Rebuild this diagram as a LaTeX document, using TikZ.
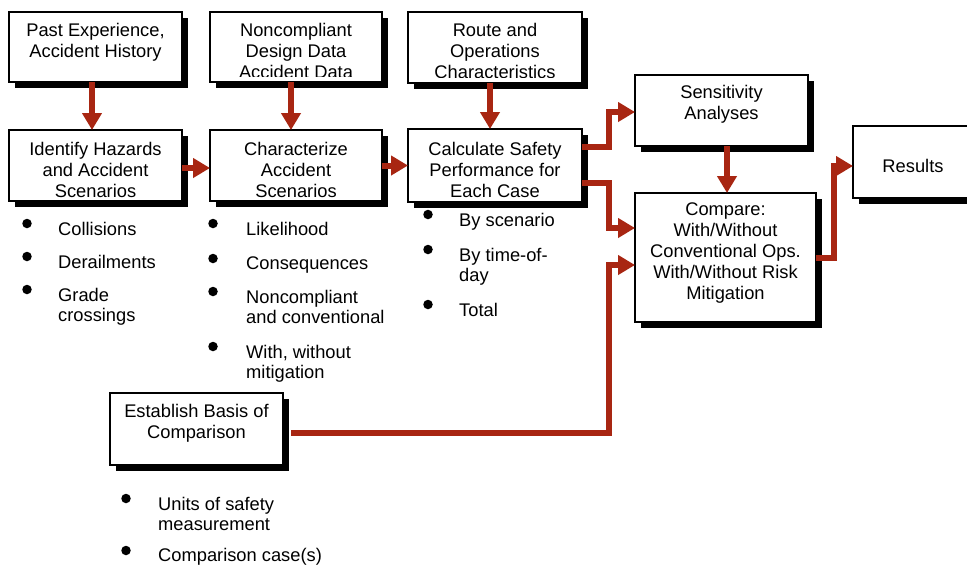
\documentclass[tikz,border=0pt]{standalone}
\usepackage{fontspec}
\setmainfont{Liberation Sans}
\usetikzlibrary{arrows.meta,shadows,calc}
\definecolor{arrowred}{RGB}{168,38,18}
\tikzset{
  box/.style={draw=black, line width=1.6pt, fill=white, rectangle, inner sep=0pt, outer sep=0pt, anchor=north west,
    drop shadow={shadow xshift=6pt, shadow yshift=-6pt, opacity=1, fill=black}},
  boxtext/.style={anchor=north, inner sep=0pt, align=center, font=\fontsize{18.3}{21}\selectfont},
  itemtext/.style={anchor=north west, inner sep=0pt, align=left, font=\fontsize{18.3}{20.5}\selectfont},
  arr/.style={draw=arrowred, line width=6pt, line join=miter, -{Triangle[length=17pt,width=19pt]}},
  bulletdot/.style={circle, fill=black, inner sep=0pt, minimum size=9.5pt},
}
\begin{document}
\begin{tikzpicture}[x=1pt, y=-1pt]
\useasboundingbox (0,0) rectangle (967,565);
\clip (0,0) rectangle (967,565);

% boxes
\node[box, minimum width=173pt, minimum height=70pt] (box1) at (9,12) {};
\node[box, minimum width=172pt, minimum height=70pt] (box2) at (210,12) {};
\node[box, minimum width=174pt, minimum height=71pt] (box3) at (408,12) {};
\node[box, minimum width=173pt, minimum height=71pt] (box4) at (9,130) {};
\node[box, minimum width=172pt, minimum height=71pt] (box5) at (210,130) {};
\node[box, minimum width=174pt, minimum height=73pt] (box6) at (408,129) {};
\node[box, minimum width=173pt, minimum height=71pt] (box7) at (635,75) {};
\node[box, minimum width=181pt, minimum height=129pt] (box8) at (635,193) {};
\node[box, minimum width=125pt, minimum height=72pt] (box9) at (853,126) {};
\node[box, minimum width=173pt, minimum height=72pt] (box10) at (110,393) {};

% box texts
\node[boxtext] (t1) at (95.5,23) {Past Experience,\\Accident History};
\begin{scope}
  \clip (box2.north west) rectangle ([yshift=6pt]box2.south east);
  \node[boxtext] (t2) at (296,23) {Noncompliant\\Design Data\\Accident Data};
\end{scope}
\begin{scope}
  \clip (box3.north west) rectangle ([yshift=6pt]box3.south east);
  \node[boxtext] (t3) at (495,23) {Route and\\Operations\\Characteristics};
\end{scope}
\node[boxtext] (t4) at (95.5,142) {Identify Hazards\\and Accident\\Scenarios};
\node[boxtext] (t5) at (296,142) {Characterize\\Accident\\Scenarios};
\node[boxtext] (t6) at (495,142) {Calculate Safety\\Performance for\\Each Case};
\node[boxtext] (t7) at (721.5,85) {Sensitivity\\Analyses};
\node[boxtext] (t8) at (725.5,203) {Compare:\\With/Without\\Conventional Ops.\\With/Without Risk\\Mitigation};
\node[boxtext] (t9) at (913,159) {Results};
\node[boxtext] (t10) at (196.5,404) {Establish Basis of\\Comparison};

% bullet lists
\node[bulletdot] (b1) at (27,223.5) {};
\node[itemtext] (i1) at (58,222) {Collisions};
\node[bulletdot] (b2) at (27,256.5) {};
\node[itemtext] (i2) at (58,255) {Derailments};
\node[bulletdot] (b3) at (27,289.5) {};
\node[itemtext] (i3) at (58,288) {Grade\\crossings};

\node[bulletdot] (b4) at (213,223.5) {};
\node[itemtext] (i4) at (246,222) {Likelihood};
\node[bulletdot] (b5) at (213,258.5) {};
\node[itemtext] (i5) at (246,257) {Consequences};
\node[bulletdot] (b6) at (213,291.5) {};
\node[itemtext] (i6) at (246,290) {Noncompliant\\and conventional};
\node[bulletdot] (b7) at (213,346.5) {};
\node[itemtext] (i7) at (246,345) {With, without\\mitigation};

\node[bulletdot] (b8) at (428,214.5) {};
\node[itemtext] (i8) at (459,213) {By scenario};
\node[bulletdot] (b9) at (428,249.5) {};
\node[itemtext] (i9) at (459,248) {By time-of-\\day};
\node[bulletdot] (b10) at (428,304.5) {};
\node[itemtext] (i10) at (459,303) {Total};

\node[bulletdot] (b11) at (126,498.5) {};
\node[itemtext] (i11) at (158,497) {Units of safety\\measurement};
\node[bulletdot] (b12) at (126,550.5) {};
\node[itemtext] (i12) at (158,548.5) {Comparison case(s)};

% junction columns
\coordinate (j1) at (608.5,0);
\coordinate (j2) at (834,0);

% arrows
\draw[arr] ([xshift=-3.5pt]box1.south) -- ([xshift=-3.5pt]box4.north);
\draw[arr] ([xshift=-5pt]box2.south) -- ([xshift=-5pt]box5.north);
\draw[arr] ([xshift=-5pt]box3.south) -- ([xshift=-5pt]box6.north);
\draw[arr] ([yshift=-2.5pt]box4.east) -- ([yshift=-2.5pt]box5.west);
\draw[arr] (box5.east) -- (box5.east -| box6.west);
\draw[arr] ([yshift=18.5pt]box6.east) -| ([yshift=-1.5pt]j1 |- box7.west) -- ([yshift=-1.5pt]box7.west);
\draw[arr] ([yshift=-17.5pt]box6.east) -| ([yshift=29.5pt]j1 |- box8.west) -- ([yshift=29.5pt]box8.west);
\draw[arr] ([xshift=5.5pt]box7.south) -- ([xshift=5.5pt]box7.south |- box8.north);
\draw[arr] ([xshift=8pt,yshift=-4pt]box10.east) -| ([yshift=-7.5pt]j1 |- box8.west) -- ([yshift=-7.5pt]box8.west);
\draw[arr] (box8.east) -| ([yshift=-4pt]j2 |- box9.west) -- ([yshift=-4pt]box9.west);
\end{tikzpicture}
\end{document}
